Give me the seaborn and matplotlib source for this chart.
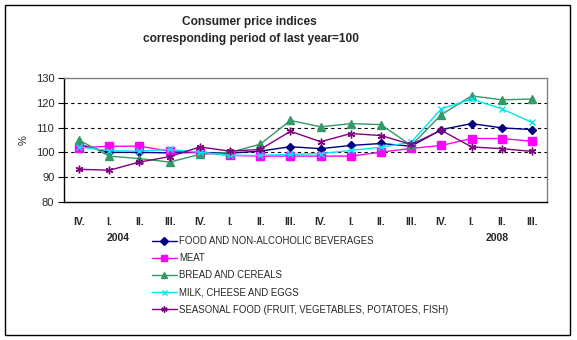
import matplotlib
matplotlib.use("Agg")
import matplotlib.pyplot as plt
import seaborn as sns
import pandas as pd
from matplotlib.patches import Rectangle

quarters = ["IV.", "I.", "II.", "III.", "IV.", "I.", "II.", "III.",
            "IV.", "I.", "II.", "III.", "IV.", "I.", "II.", "III."]

food = [103.2, 100.0, 100.0, 99.8, 100.0, 99.7, 100.5, 102.3,
        101.5, 102.8, 103.6, 102.5, 109.2, 111.6, 109.9, 109.2]
meat = [101.9, 102.5, 102.5, 100.5, 100.0, 98.8, 98.5, 98.5,
        98.5, 98.5, 100.1, 101.6, 102.8, 105.6, 105.6, 104.5]
bread = [104.9, 98.5, 97.5, 96.1, 99.2, 100.0, 103.3, 112.9,
         110.3, 111.6, 111.2, 102.8, 115.2, 122.8, 121.2, 121.5]
milk = [102.2, 100.7, 100.5, 101.2, 100.1, 98.8, 98.8, 99.2,
        99.5, 100.8, 102.1, 104.1, 117.6, 121.5, 117.6, 112.1]
seasonal = [93.2, 92.8, 96.1, 98.3, 102.2, 100.5, 101.2, 108.5,
            104.3, 107.6, 106.8, 103.2, 108.9, 102.2, 101.5, 100.4]

series = [
    ("FOOD AND NON-ALCOHOLIC BEVERAGES", food, "#000080", "D", 4.5),
    ("MEAT", meat, "#FF00FF", "s", 5.5),
    ("BREAD AND CEREALS", bread, "#339966", "^", 6),
    ("MILK, CHEESE AND EGGS", milk, "#00E5EE", "x", 4.5),
    ("SEASONAL FOOD (FRUIT, VEGETABLES, POTATOES, FISH)", seasonal, "#800080", (6, 2, 0), 5.5),
]

sns.set_style("white")
plt.rcParams["font.family"] = ["Liberation Sans", "DejaVu Sans"]

fig = plt.figure(figsize=(5.77, 3.40), dpi=100)
ax = fig.add_axes([64 / 577, 1 - 202 / 340, (547 - 64) / 577, (202 - 78) / 340])

pos = list(range(len(quarters)))
for name, vals, color, marker, ms in series:
    df = pd.DataFrame({"pos": pos, "val": vals})
    sns.lineplot(data=df, x="pos", y="val", ax=ax, color=color, marker=marker,
                 markersize=ms, markeredgecolor=color, markeredgewidth=1.0,
                 linewidth=1.0, label=name)

ax.set_xlim(-0.5, len(quarters) - 0.5)
ax.set_ylim(80, 130)
ax.set_yticks([80, 90, 100, 110, 120, 130])
ax.set_yticklabels(["80", "90", "100", "110", "120", "130"], fontsize=8)
for yv in [90, 100, 110, 120]:
    ax.axhline(yv, color="black", linestyle=(0, (3, 3)), linewidth=0.8, zorder=0)

ax.set_xticks(pos)
ax.set_xticklabels(quarters, fontsize=7.5, fontweight="bold")
ax.set_xticks([p - 0.5 for p in pos] + [len(quarters) - 0.5], minor=True)
ax.tick_params(axis="x", which="major", length=0, pad=11)
ax.tick_params(axis="x", which="minor", direction="in", length=3, width=0.8, color="black")
ax.tick_params(axis="y", which="major", direction="out", length=4, width=0.8, color="black", pad=3, left=True)
ax.set_xlabel("")
ax.set_ylabel("%", fontsize=8, labelpad=5)

for side in ["left", "bottom"]:
    ax.spines[side].set_color("black")
    ax.spines[side].set_linewidth(1.0)
for side in ["top", "right"]:
    ax.spines[side].set_visible(True)
    ax.spines[side].set_color("#808080")
    ax.spines[side].set_linewidth(1.0)

fig.text(249 / 577, 1 - 22 / 340, "Consumer price indices", ha="center", va="center",
         fontsize=8.6, fontweight="bold")
fig.text(251 / 577, 1 - 39 / 340, "corresponding period of last year=100", ha="center", va="center",
         fontsize=8.6, fontweight="bold")

fig.text(118 / 577, 1 - 238 / 340, "2004", ha="center", va="center", fontsize=7.5, fontweight="bold")
fig.text(497 / 577, 1 - 238 / 340, "2008", ha="center", va="center", fontsize=7.5, fontweight="bold")

handles, labels = ax.get_legend_handles_labels()
ax.legend(handles, labels, loc="upper left", bbox_to_anchor=(152 / 577, 1 - 236 / 340),
          bbox_transform=fig.transFigure, frameon=False, fontsize=6.9,
          handlelength=2.6, handletextpad=0.2, labelspacing=0.75, borderaxespad=0,
          borderpad=0, markerscale=0.8)

fig.patches.append(Rectangle((5 / 577, 5 / 340), 565 / 577, 330 / 340,
                             transform=fig.transFigure, fill=False,
                             edgecolor="black", linewidth=1.0))

fig.savefig("out.png", dpi=100)
